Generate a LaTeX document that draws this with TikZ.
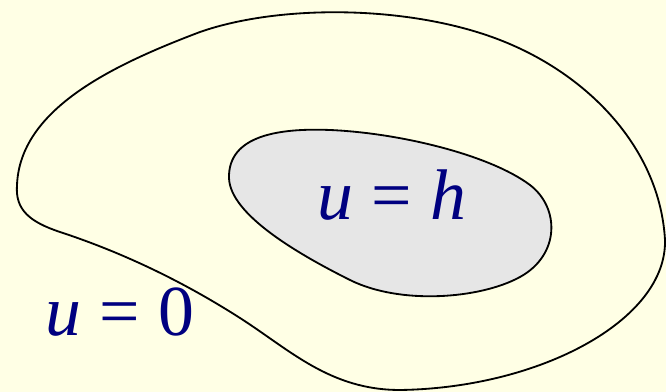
\documentclass[tikz,border=0pt]{standalone}
\usepackage{fontspec}
\setmainfont{Liberation Serif}
\definecolor{paper}{HTML}{FFFFE5}
\definecolor{inner}{HTML}{E6E6E6}
\definecolor{ink}{HTML}{000080}

\begin{document}
\begin{tikzpicture}[x=0.025cm,y=-0.025cm,
  region/.style={draw,black,line width=1.3pt,line join=round},
  eqn/.style={ink,font=\fontsize{51}{58}\selectfont}]
\fill[paper](0,0) rectangle (666,392);
\useasboundingbox (0,0) rectangle (666,392);
% outer boundary, u=0
\draw[region] (17,185) .. controls (20,110) and (110,66) .. (200,32)
  .. controls (280,4) and (410,5) .. (500,40)
  .. controls (590,75) and (660,150) .. (665,240)
  .. controls (667,320) and (540,388) .. (400,390)
  .. controls (330,390) and (290,350) .. (240,318)
  .. controls (190,286) and (130,255) .. (60,232)
  .. controls (30,222) and (15,210) .. (17,185) -- cycle;
% inner hole, u=h
\draw[region,fill=inner] (229,178) .. controls (228,135) and (280,128) .. (330,130)
  .. controls (400,133) and (490,155) .. (530,185)
  .. controls (560,208) and (560,255) .. (520,277)
  .. controls (480,299) and (400,305) .. (350,280)
  .. controls (300,255) and (230,215) .. (229,178) -- cycle;
\node[eqn] (uh) at (392,195) {\textit{u} = \textit{h}};
\node[eqn] (u0) at (120,312) {\textit{u} = 0};
\end{tikzpicture}
\end{document}
